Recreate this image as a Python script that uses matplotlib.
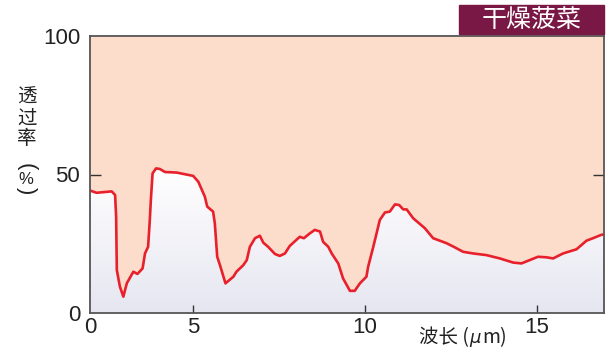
import numpy as np
import matplotlib
matplotlib.use("Agg")
import matplotlib.pyplot as plt
from matplotlib.colors import LinearSegmentedColormap
from matplotlib.patches import Rectangle

plt.rcParams['font.family'] = ['Liberation Sans', 'DejaVu Sans']
cjk = ['Noto Sans CJK SC', 'DejaVu Sans']

# 干燥菠菜 红外透过率曲线（波长 μm, 透过率 %）
wavelength = [2.00, 2.19, 2.63, 2.73, 2.76, 2.78, 2.87, 2.97, 3.07, 3.26, 3.38,
              3.53, 3.60, 3.69, 3.74, 3.77, 3.82, 3.92, 4.03, 4.18, 4.52, 5.00,
              5.15, 5.34, 5.41, 5.58, 5.63, 5.70, 5.78, 5.94, 6.17, 6.26, 6.46,
              6.56, 6.65, 6.80, 6.94, 7.04, 7.18, 7.38, 7.52, 7.67, 7.81, 8.10,
              8.22, 8.40, 8.54, 8.69, 8.78, 8.93, 9.03, 9.22, 9.36, 9.56, 9.70,
              9.85, 10.04, 10.09, 10.24, 10.43, 10.58, 10.72, 10.87, 10.99,
              11.11, 11.21, 11.40, 11.74, 11.98, 12.37, 12.61, 12.85, 13.14,
              13.53, 13.92, 14.31, 14.55, 14.79, 15.03, 15.28, 15.47, 15.76,
              16.15, 16.44, 16.63, 16.87, 16.95]
transmit = [44.2, 43.4, 43.9, 42.6, 34.8, 15.5, 9.5, 5.9, 10.7, 14.9, 14.1,
            16.1, 21.5, 23.9, 33.6, 40.8, 50.4, 52.2, 52.0, 50.9, 50.7, 49.5,
            47.4, 42.0, 38.4, 36.6, 32.4, 20.3, 17.3, 10.7, 13.1, 14.9, 17.3,
            19.1, 23.9, 27.0, 27.9, 25.4, 23.9, 21.3, 20.6, 21.5, 24.2, 27.5,
            27.0, 28.8, 30.0, 29.4, 25.7, 23.9, 21.5, 17.9, 12.5, 8.0, 8.0,
            10.7, 13.1, 16.7, 23.9, 33.6, 36.3, 36.6, 39.2, 39.0,
            37.4, 37.4, 34.2, 30.6, 27.0, 25.2, 23.7, 22.1, 21.5,
            20.9, 19.7, 18.2, 17.9, 19.1, 20.3, 20.1, 19.7, 21.5,
            23.0, 26.1, 27.0, 28.2, 28.4]

xticks = [2, 5, 10, 15]
xtick_labels = ["0", "5", "10", "15"]
yticks = [0, 50, 100]

fig = plt.figure(figsize=(6.08, 3.6), dpi=100)
ax = fig.add_axes([90/608, 47/360, 514/608, 277/360])
ax.set_xlim(2, 16.95)
ax.set_ylim(0, 100)
ax.set_facecolor('#FCDCCB')

# 曲线下方的渐变填充
grad = LinearSegmentedColormap.from_list('under', ['#E6E6F1', '#FFFFFF'])
img = ax.imshow(np.linspace(0, 1, 256).reshape(-1, 1), cmap=grad, origin='lower',
                extent=[2, 16.95, 0, 52], aspect='auto', zorder=1)
poly = ax.fill_between(wavelength, transmit, 0, color='none', zorder=1)
img.set_clip_path(poly.get_paths()[0], transform=ax.transData)
ax.set_ylim(0, 100)

ax.plot(wavelength, transmit, color='#E8202B', lw=1.9, zorder=3,
        solid_joinstyle='round')

for s in ax.spines.values():
    s.set_color('#555555')
    s.set_linewidth(1.3)
    s.set_zorder(4)

ax.set_xticks(xticks, xtick_labels)
ax.set_yticks(yticks, ["0", "50", "100"])
ax.tick_params(axis='x', direction='in', length=6, width=1, color='#333333',
               labelsize=16, pad=3, labelcolor='#222222')
ax.tick_params(axis='y', direction='in', length=8, width=1, color='#333333',
               labelsize=16, pad=7, labelcolor='#222222', right=True)
for t in ax.yaxis.get_major_ticks():
    if t.get_loc() in (0, 100):
        t.tick1line.set_visible(False)
        t.tick2line.set_visible(False)
ax.xaxis.get_major_ticks()[0].tick1line.set_visible(False)

# 纵轴标题（竖排，括号旋转成竖排形式）
fig.text(27/608, 1 - 118/360, "透\n过\n率", family=cjk, fontsize=14,
         ha='center', va='center', linespacing=1.0, color='#222222')
fig.text(26/608, 1 - 167/360, "(", fontsize=16, rotation=-90,
         ha='center', va='center', color='#222222')
fig.text(26/608, 1 - 179/360, "%", fontsize=12,
         ha='center', va='center', color='#222222')
fig.text(26/608, 1 - 191/360, ")", fontsize=16, rotation=-90,
         ha='center', va='center', color='#222222')

fig.text(469/608, 1 - 338/360, "波长 (", family=cjk, fontsize=14,
         ha='right', va='center', color='#222222')
fig.text(469/608, 1 - 338/360, "μ", family=['DejaVu Sans'], fontsize=13,
         style='italic', ha='left', va='center', color='#222222')
fig.text(482/608, 1 - 338/360, "m)", family=cjk, fontsize=14,
         ha='left', va='center', color='#222222')

# 右上角标题框
fig.patches.append(Rectangle((459/608, 1 - 34/360), 145/608, 29/360,
                             transform=fig.transFigure, color='#7A1845'))
fig.text(532/608, 1 - 20/360, "干燥菠菜", family=cjk, fontsize=18,
         color='white', ha='center', va='center')

fig.savefig("out.png", dpi=100)
